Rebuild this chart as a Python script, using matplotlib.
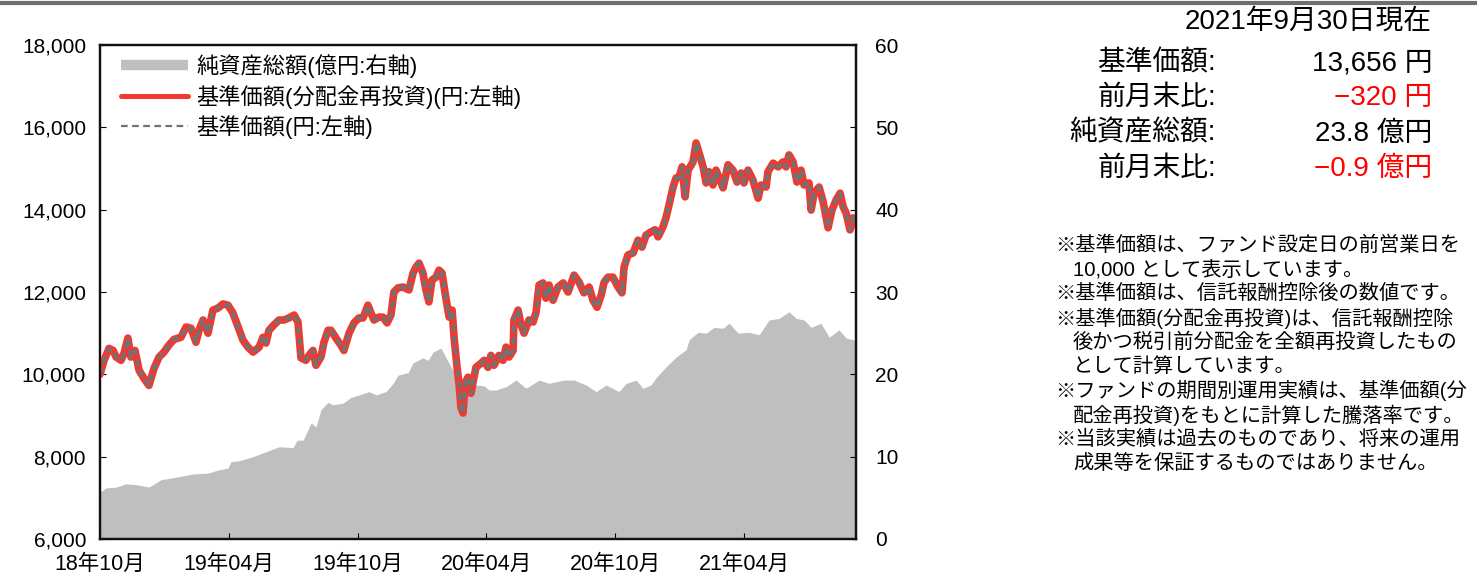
"""
plot.py — 基準価額・純資産総額の推移チャート

Draws the NAV history (left axis, yen) over the net-asset area (right axis,
100M yen) together with the month-end summary and footnotes on the right.
Output: out.png
"""

import numpy as np
import matplotlib
matplotlib.use("Agg")
import matplotlib.pyplot as plt
from matplotlib.lines import Line2D
from matplotlib.ticker import FuncFormatter, MultipleLocator

plt.rcParams["font.family"] = ["Liberation Sans", "Noto Sans CJK JP", "DejaVu Sans"]

# ---------------------------------------------------------------------------
# Data (x = months elapsed since 2018-10)
# ---------------------------------------------------------------------------
nav_months = [
    0.00, 0.19, 0.42, 0.61, 0.75, 0.98, 1.12, 1.30, 1.44, 1.63, 1.82, 2.05,
    2.28, 2.52, 2.75, 2.98, 3.21, 3.45, 3.77, 4.01, 4.24, 4.47, 4.61, 4.80,
    5.03, 5.26, 5.50, 5.73, 5.96, 6.19, 6.43, 6.66, 6.89, 7.13, 7.41, 7.59,
    7.73, 7.87, 8.10, 8.34, 8.57, 8.80, 9.04, 9.22, 9.36, 9.59, 9.73, 9.92,
    10.06, 10.29, 10.43, 10.62, 10.76, 10.99, 11.22, 11.36, 11.60, 11.83, 12.06, 12.25,
    12.48, 12.62, 12.76, 12.99, 13.18, 13.37, 13.55, 13.69, 13.88, 14.11, 14.39, 14.58,
    14.72, 14.86, 15.04, 15.18, 15.32, 15.46, 15.65, 15.79, 15.93, 16.07, 16.26, 16.40,
    16.49, 16.63, 16.72, 16.81, 16.91, 17.00, 17.14, 17.28, 17.37, 17.51, 17.75, 17.89,
    18.07, 18.21, 18.35, 18.58, 18.77, 18.91, 19.05, 19.24, 19.28, 19.47, 19.61, 19.75,
    19.98, 20.17, 20.31, 20.45, 20.63, 20.77, 20.91, 21.10, 21.33, 21.57, 21.80, 22.08,
    22.31, 22.54, 22.78, 22.96, 23.15, 23.34, 23.48, 23.66, 23.89, 24.13, 24.31, 24.41,
    24.59, 24.83, 25.06, 25.24, 25.43, 25.66, 25.85, 25.99, 26.22, 26.36, 26.50, 26.69,
    26.83, 26.97, 27.11, 27.25, 27.39, 27.62, 27.76, 27.90, 28.09, 28.23, 28.37, 28.55,
    28.69, 29.02, 29.25, 29.48, 29.67, 29.86, 29.99, 30.18, 30.41, 30.65, 30.79, 31.02,
    31.11, 31.35, 31.58, 31.81, 31.95, 32.09, 32.28, 32.46, 32.65, 32.79, 33.02, 33.12,
    33.26, 33.49, 33.68, 33.91, 34.09, 34.28, 34.47, 34.61, 34.75, 34.93, 35.07, 35.21,
]
nav_yen = [
    10000, 10340, 10630, 10580, 10420, 10340, 10510, 10880, 10420, 10580, 10100, 9900,
    9730, 10150, 10420, 10540, 10710, 10850, 10900, 11150, 11120, 10780, 11070, 11320,
    11000, 11560, 11610, 11710, 11680, 11490, 11150, 10830, 10660, 10540, 10660, 10900,
    10760, 11070, 11200, 11320, 11320, 11370, 11440, 11270, 10400, 10340, 10460, 10580,
    10220, 10420, 10780, 11070, 11070, 10880, 10710, 10580, 11000, 11250, 11370, 11370,
    11680, 11490, 11320, 11390, 11390, 11250, 11440, 12000, 12100, 12120, 12050, 12460,
    12610, 12700, 12460, 12050, 11760, 12290, 12360, 12530, 12460, 11980, 11390, 11560,
    10900, 10170, 9780, 9200, 9060, 9780, 9930, 9540, 9800, 10170, 10270, 10340,
    10170, 10460, 10220, 10460, 10340, 10660, 10420, 10580, 11320, 11560, 11200, 11000,
    11320, 11270, 11510, 12170, 12220, 11850, 12170, 11800, 12120, 12220, 12000, 12410,
    12240, 11980, 12120, 11800, 11630, 11920, 12240, 12360, 12360, 12120, 11980, 12610,
    12900, 12950, 13260, 13090, 13380, 13460, 13510, 13340, 13580, 13800, 14110, 14550,
    14770, 14790, 15040, 14310, 14960, 15160, 15620, 15380, 15040, 14650, 14920, 14600,
    14960, 14530, 15090, 14960, 14670, 14890, 14650, 14960, 14720, 14280, 14600, 14550,
    14920, 15130, 15040, 15160, 15040, 15330, 15160, 14670, 14960, 14600, 14650, 13990,
    14400, 14550, 14190, 13560, 13990, 14230, 14400, 14070, 13920, 13510, 13800, 13656,
]

asset_months = [
    0.00, 0.28, 0.75, 1.21, 1.68, 2.28, 2.84, 3.54, 4.33, 5.03, 5.54, 5.96,
    6.10, 6.47, 7.13, 7.73, 8.34, 8.99, 9.18, 9.46, 9.83, 10.06, 10.29, 10.62,
    10.85, 11.32, 11.69, 12.06, 12.53, 12.86, 13.32, 13.65, 13.88, 14.35, 14.58, 14.81,
    15.04, 15.28, 15.51, 15.88, 16.12, 16.35, 16.58, 16.91, 17.19, 17.51, 17.89, 18.12,
    18.45, 18.91, 19.38, 19.84, 20.45, 20.91, 21.61, 22.08, 22.64, 23.11, 23.57, 24.17,
    24.50, 24.97, 25.29, 25.66, 25.90, 26.36, 26.83, 27.30, 27.44, 27.85, 28.23, 28.60,
    29.02, 29.30, 29.72, 30.23, 30.70, 31.16, 31.63, 32.09, 32.42, 32.79, 33.12, 33.58,
    33.96, 34.42, 34.75, 35.12, 35.21,
]
asset_oku = [
    5.7, 6.2, 6.3, 6.7, 6.6, 6.3, 7.2, 7.5, 7.9, 8.0, 8.4, 8.6,
    9.4, 9.5, 10.0, 10.6, 11.2, 11.1, 12.0, 12.0, 14.1, 13.6, 15.7, 16.6,
    16.3, 16.5, 17.2, 17.5, 17.9, 17.5, 17.9, 18.9, 19.9, 20.2, 21.4, 21.7,
    22.0, 21.7, 22.7, 23.2, 22.0, 20.9, 19.9, 18.9, 18.5, 18.7, 18.6, 18.1,
    18.1, 18.5, 19.3, 18.3, 19.3, 18.9, 19.3, 19.3, 18.7, 17.9, 18.7, 17.9,
    18.9, 19.3, 18.3, 18.7, 19.6, 20.9, 22.1, 23.0, 24.2, 25.1, 25.0, 25.7,
    25.6, 26.2, 25.0, 25.1, 24.8, 26.6, 26.8, 27.6, 26.8, 26.6, 25.7, 26.2,
    24.5, 25.4, 24.4, 24.2, 23.8,
]

tick_months = [0, 6, 12, 18, 24, 30]
tick_labels = ["18年10月", "19年04月", "19年10月", "20年04月", "20年10月", "21年04月"]

summary_date = "2021年9月30日現在"
summary_labels = ["基準価額:", "前月末比:", "純資産総額:", "前月末比:"]
summary_values = ["13,656 円", "\u2212320 円", "23.8 億円", "\u22120.9 億円"]
summary_colors = ["black", "red", "black", "red"]

notes = [
    ("※基準価額は、ファンド設定日の前営業日を", False),
    ("10,000 として表示しています。", True),
    ("※基準価額は、信託報酬控除後の数値です。", False),
    ("※基準価額(分配金再投資)は、信託報酬控除", False),
    ("後かつ税引前分配金を全額再投資したもの", True),
    ("として計算しています。", True),
    ("※ファンドの期間別運用実績は、基準価額(分", False),
    ("配金再投資)をもとに計算した騰落率です。", True),
    ("※当該実績は過去のものであり、将来の運用", False),
    ("成果等を保証するものではありません。", True),
]

# ---------------------------------------------------------------------------
# Style
# ---------------------------------------------------------------------------
W, H = 1477, 579
RED = "#ef3a2f"
DASH_GREY = "#6e7378"
AREA_GREY = "#bfbfbf"


def fx(px):
    return px / W


def fy(py):
    return 1 - py / H


def draw_chart(fig):
    ax = fig.add_axes([fx(100), fy(539), fx(856) - fx(100), fy(45) - fy(539)])
    ax2 = ax.twinx()

    # net assets behind, NAV lines in front
    ax2.fill_between(asset_months, asset_oku, 0, color=AREA_GREY, lw=0)
    ax.set_zorder(ax2.get_zorder() + 1)
    ax.patch.set_visible(False)

    ax.plot(nav_months, nav_yen, color=RED, lw=5.5, solid_joinstyle="round",
            solid_capstyle="round")
    ax.plot(nav_months, nav_yen, color=DASH_GREY, lw=2.6, ls=(0, (2.0, 1.2)))

    ax.set_xlim(0, nav_months[-1])
    ax.set_ylim(6000, 18000)
    ax2.set_ylim(0, 60)
    ax.yaxis.set_major_locator(MultipleLocator(2000))
    ax.yaxis.set_major_formatter(FuncFormatter(lambda v, _: f"{v:,.0f}"))
    ax2.yaxis.set_major_locator(MultipleLocator(10))
    ax.set_xticks(tick_months)
    ax.set_xticklabels(tick_labels)

    ax.tick_params(axis="y", direction="in", length=4, width=0.8, pad=10,
                   labelsize=15)
    ax.tick_params(axis="x", direction="in", length=4, width=0.8, pad=11,
                   labelsize=15.5)
    ax2.tick_params(axis="y", direction="in", length=4, width=0.8, pad=14,
                    labelsize=15)
    for a in (ax, ax2):
        for s in a.spines.values():
            s.set_linewidth(1.6)
            s.set_color("#111111")

    handles = [
        Line2D([], [], color=AREA_GREY, lw=7.5, solid_capstyle="butt"),
        Line2D([], [], color=RED, lw=3.6, solid_capstyle="round"),
        Line2D([], [], color=DASH_GREY, lw=1.6, ls=(0, (3.0, 2.0))),
    ]
    labels = ["純資産総額(億円:右軸)", "基準価額(分配金再投資)(円:左軸)", "基準価額(円:左軸)"]
    ax.legend(handles, labels, loc="upper left", bbox_to_anchor=(0.022, 0.99),
              frameon=False, fontsize=16, handlelength=3.0, handletextpad=0.4,
              labelspacing=0.3, borderaxespad=0, borderpad=0.2)


def draw_summary(fig):
    fig.text(fx(1432), fy(22), summary_date, ha="right", va="center", fontsize=20)
    for i, (lab, val, col) in enumerate(zip(summary_labels, summary_values, summary_colors)):
        y = 63 + i * 35.3
        fig.text(fx(1216), fy(y), lab, ha="right", va="center", fontsize=20)
        fig.text(fx(1432), fy(y), val, ha="right", va="center", fontsize=20, color=col)

    for i, (line, indent) in enumerate(notes):
        x = 1073 if indent else 1055
        fig.text(fx(x), fy(245 + i * 24.3), line, ha="left", va="center", fontsize=14.6)


def main():
    fig = plt.figure(figsize=(W / 100, H / 100), dpi=100)
    fig.add_artist(Line2D([0, 1], [fy(3), fy(3)], color="#6b6f74", lw=3,
                          transform=fig.transFigure))
    draw_chart(fig)
    draw_summary(fig)
    fig.savefig("out.png", dpi=100)
    plt.close(fig)


if __name__ == "__main__":
    main()
